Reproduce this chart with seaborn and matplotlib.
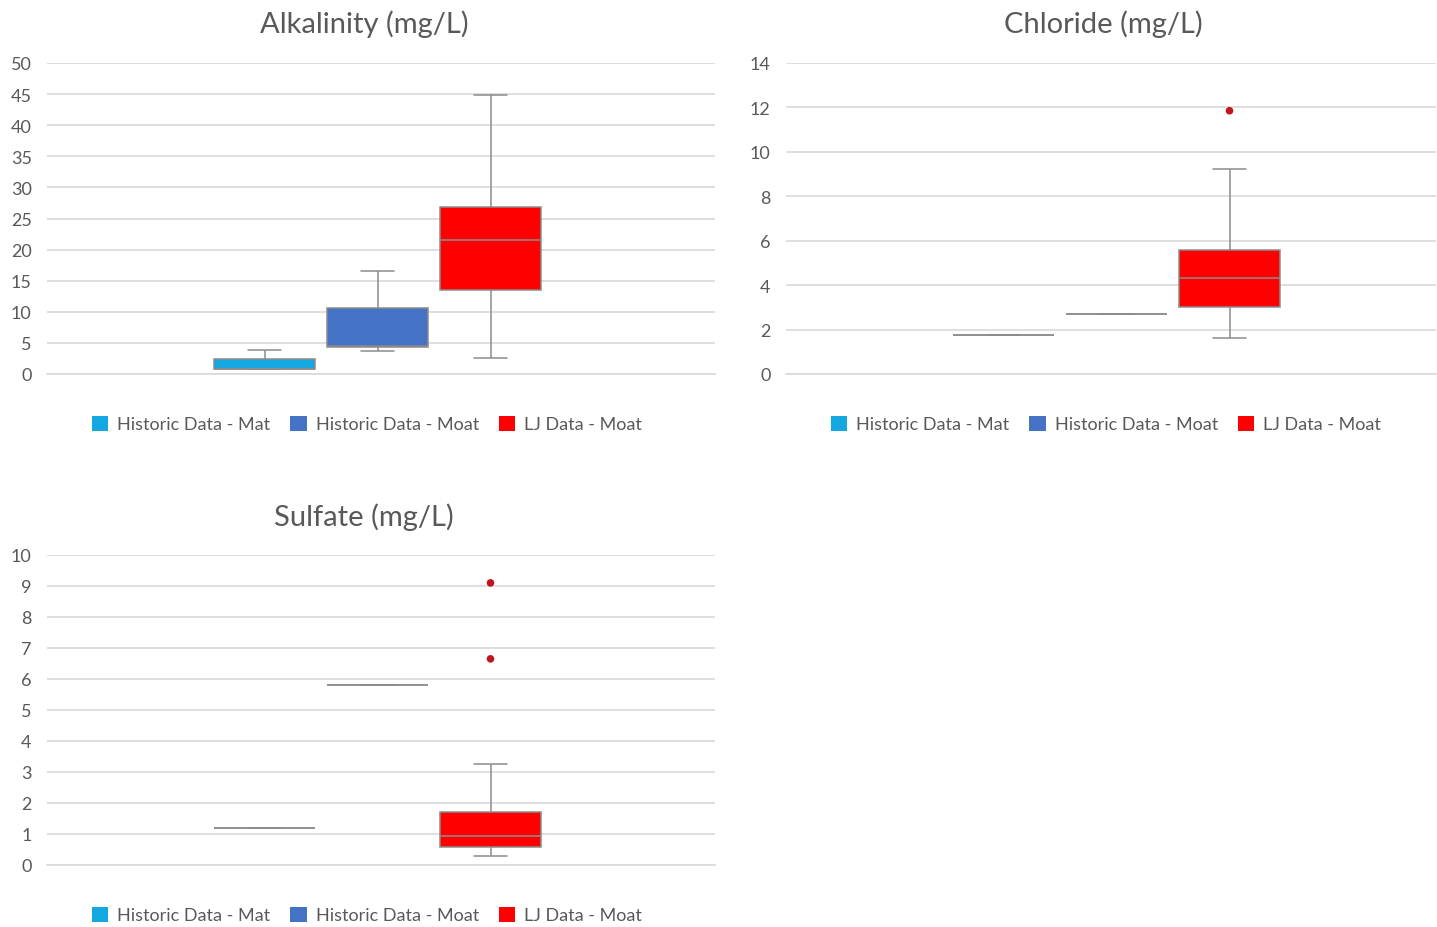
import matplotlib
matplotlib.use("Agg")
import matplotlib.pyplot as plt
from matplotlib.patches import Patch
import numpy as np
import pandas as pd
import seaborn as sns

# Series names and colours
series = ["Historic Data - Mat", "Historic Data - Moat", "LJ Data - Moat"]
colors = ["#14A7E0", "#4472C4", "#FF0000"]

# Summary values per series: min, lower quartile, median, upper quartile, max
alk_mat = [0.8, 0.8, 0.8, 2.4, 3.85]
alk_moat = [3.7, 4.3, 4.5, 10.6, 16.5]
alk_lj = [2.6, 13.5, 21.5, 26.8, 44.9]
alk_lj_outliers = []

chl_mat = [1.75]
chl_moat = [2.7]
chl_lj = [1.62, 3.0, 4.3, 5.6, 9.23]
chl_lj_outliers = [11.85]

sul_mat = [1.19]
sul_moat = [5.8]
sul_lj = [0.3, 0.58, 0.94, 1.71, 3.26]
sul_lj_outliers = [9.1, 6.65]

# Axis settings
alk_ticks = [0, 5, 10, 15, 20, 25, 30, 35, 40, 45, 50]
chl_ticks = [0, 2, 4, 6, 8, 10, 12, 14]
sul_ticks = [0, 1, 2, 3, 4, 5, 6, 7, 8, 9, 10]

panels = [
    ("Alkalinity (mg/L)", [alk_mat, alk_moat, alk_lj], alk_lj_outliers, alk_ticks),
    ("Chloride (mg/L)", [chl_mat, chl_moat, chl_lj], chl_lj_outliers, chl_ticks),
    ("Sulfate (mg/L)", [sul_mat, sul_moat, sul_lj], sul_lj_outliers, sul_ticks),
]

sns.set_theme(style="whitegrid")
plt.rcParams["font.family"] = ["Lato", "DejaVu Sans"]

W, H = 1437, 928
fig = plt.figure(figsize=(W / 100, H / 100), dpi=100)

# axes rectangles in pixels: left, top, right, bottom
rects = [(47, 64, 715, 375), (786, 64, 1436, 375), (47, 556, 715, 866)]
group_center_px = [377.5, 1116.5, 377.5]
title_pos = [(364, 24), (1103, 24), (364, 517)]
legend_pos = [(367, 425), (1106, 425), (367, 916)]

text_col = "#595959"
grid_col = "#D9D9D9"
slot_px = 113      # distance between neighbouring boxes
box_px = 101       # box width
cap_frac = 0.32    # whisker cap width relative to box

for (title, groups, outliers, ticks), (l, t, r, b), cpx, (tx, ty), (lx, ly) in zip(
        panels, rects, group_center_px, title_pos, legend_pos):
    ax = fig.add_axes([l / W, 1 - b / H, (r - l) / W, (b - t) / H])
    axw = r - l
    width = len(series) * slot_px / axw
    gap = 1 - box_px / slot_px
    rows = []
    for name, vals in zip(series, groups):
        for v in vals:
            rows.append({"grp": "all", "series": name, "value": v})
    df = pd.DataFrame(rows)
    sns.boxplot(data=df, x="grp", y="value", hue="series", hue_order=series,
                palette=colors, width=width, gap=gap, whis=(0, 100),
                linecolor="#8C8C8C", linewidth=1.1, saturation=1,
                legend=False, ax=ax)
    # narrow the whisker caps
    box_w = box_px / axw
    for ln in ax.lines:
        xd = np.asarray(ln.get_xdata(), dtype=float)
        yd = np.asarray(ln.get_ydata(), dtype=float)
        if len(xd) == 2 and yd[0] == yd[1]:
            span = abs(xd[1] - xd[0])
            if span < 0.75 * box_w:
                mid = xd.mean()
                half = cap_frac * box_w / 2
                ln.set_xdata([mid - half, mid + half])
    if outliers:
        step = width / len(series)
        xo = [step] * len(outliers)
        sns.scatterplot(x=xo, y=outliers, color="#C0141E", s=30,
                        edgecolor="none", ax=ax, zorder=5)
    # place the group so that it sits at the given pixel centre
    x0 = -(cpx - l) / axw
    ax.set_xlim(x0, x0 + 1)
    ax.set_ylim(ticks[0], ticks[-1])
    ax.set_yticks(ticks)
    ax.set_xticks([])
    ax.set_xlabel("")
    ax.set_ylabel("")
    ax.grid(axis="y", color=grid_col, linewidth=1.2)
    ax.grid(axis="x", visible=False)
    for s in ["left", "right", "top"]:
        ax.spines[s].set_visible(False)
    ax.spines["bottom"].set_color(grid_col)
    ax.spines["bottom"].set_linewidth(1.2)
    ax.tick_params(axis="y", length=0, pad=11, labelsize=13, labelcolor=text_col)
    ax.set_axisbelow(True)
    ax.set_facecolor("white")

    fig.text(tx / W, 1 - ty / H, title, ha="center", va="center",
             fontsize=21, color=text_col)
    handles = [Patch(facecolor=c, edgecolor="none", label=n)
               for c, n in zip(colors, series)]
    fig.legend(handles=handles, loc="center", bbox_to_anchor=(lx / W, 1 - ly / H),
               ncol=3, frameon=False, fontsize=13, labelcolor=text_col,
               handlelength=0.9, handleheight=0.9, handletextpad=0.5,
               columnspacing=1.1)

fig.savefig("out.png", dpi=100, facecolor="white")
